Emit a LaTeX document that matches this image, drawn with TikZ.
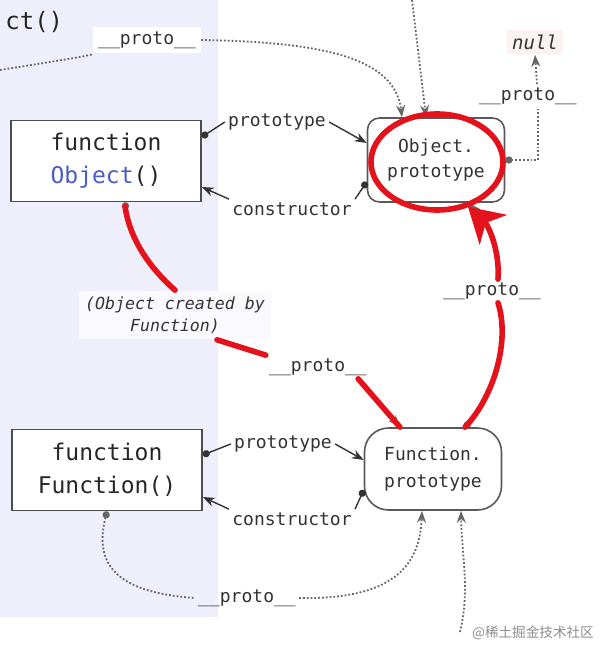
\documentclass[tikz,border=0pt]{standalone}
\usepackage{fontspec}
\setmonofont{DejaVu Sans Mono}
\newfontfamily\cjkfont{Noto Sans CJK SC}
\usetikzlibrary{arrows.meta}
\definecolor{panel}{HTML}{EFEFFB}
\definecolor{objblue}{HTML}{4A5CC9}
\definecolor{penred}{HTML}{E3121B}
\definecolor{nullbg}{HTML}{FCF2F2}
\begin{document}
\begin{tikzpicture}[x=0.5pt,y=-0.5pt,font=\ttfamily\fontsize{9}{11}\selectfont,text=black!80]
    \tikzstyle{ctor}=[draw=black!70,line width=0.8pt,fill=white,minimum width=95pt,minimum height=40.5pt,
      align=center,text=black!85,font=\ttfamily\fontsize{11.5}{16.5}\selectfont]
    \tikzstyle{proto obj}=[draw=black!65,line width=0.8pt,fill=white,minimum width=68.5pt,minimum height=42pt,
      align=center,font=\ttfamily\fontsize{9}{12.5}\selectfont]
    \tikzstyle{lbl}=[inner sep=1.5pt]
    \tikzstyle{link}=[draw=black!80,line width=0.7pt]
    \tikzstyle{dots}=[draw=black!60,line width=0.9pt,densely dotted]
    \tikzstyle{tip}=[-{Stealth[length=6pt,width=4.5pt]}]
    \tikzstyle{dot}=[{Circle[length=3.6pt]}-]
    \tikzstyle{pen}=[draw=penred,line width=2.8pt,line cap=round]
    \useasboundingbox (0,0) rectangle (609,658);
    \fill[panel] (0,0) rectangle (218,617);
    % nodes
    \node[anchor=west,inner sep=0pt,font=\ttfamily\fontsize{12}{14}\selectfont,text=black!85] (cut) at (5,22) {ct()};
    \node[ctor] (fobj) at (106,161) {function\\{\color{objblue}Object}()};
    \node[ctor] (ffun) at (107,470) {function\\Function()};
    \node[proto obj,rounded corners=6pt] (oproto) at (436,160) {Object.\\prototype};
    \node[proto obj,rounded corners=12pt,minimum height=41pt,font=\ttfamily\fontsize{9}{13.5}\selectfont] (fproto) at (433,469) {Function.\\prototype};
    \node[fill=nullbg,inner sep=2.5pt,font=\ttfamily\itshape\fontsize{9.5}{11}\selectfont] (nullv) at (535,42) {null};
    % labels
    \node[lbl,fill=white,inner sep=2.5pt] (topproto) at (147,40) {\_\_proto\_\_};
    \node[lbl] (nullproto) at (528,96) {\_\_proto\_\_};
    \node[lbl] (protoA) at (277,122) {prototype};
    \node[lbl] (ctorA) at (292,209) {constructor};
    \node[lbl] (protoB) at (283,444) {prototype};
    \node[lbl] (ctorB) at (292,519) {constructor};
    \node[lbl,fill=white!70!panel,inner sep=3pt,align=center,font=\ttfamily\itshape\fontsize{8.3}{11}\selectfont] (created) at (175,315) {(Object created by\\Function)};
    \node[lbl] (midproto) at (318,367) {\_\_proto\_\_};
    \node[lbl] (upproto) at (492,291) {\_\_proto\_\_};
    \node[lbl] (lowproto) at (247,598) {\_\_proto\_\_};
    \node[font=\cjkfont\fontsize{6.8}{8}\selectfont,text=black!45] (mark) at (533,633) {@稀土掘金技术社区};
    \coordinate (leftin) at (0,70);
    \coordinate (topin) at (412,0);
    \coordinate (botin) at (460,632);
    % prototype / constructor links
    \draw[link,dot] ([yshift=12pt]fobj.east) -- (protoA.west);
    \draw[link,tip] (protoA.east) -- ([yshift=8.5pt]oproto.west);
    \draw[link,dot] ([yshift=-11pt]oproto.west) -- (ctorA.north east);
    \draw[link,tip] (ctorA.north west) -- ([yshift=-13pt]fobj.east);
    \draw[link,dot] ([yshift=7.5pt]ffun.east) -- (protoB.west);
    \draw[link,tip] (protoB.east) -- ([yshift=4.5pt]fproto.west);
    \draw[link,dot] ([yshift=-10.5pt]fproto.west) -- (ctorB.north east);
    \draw[link,tip] (ctorB.north west) -- ([yshift=-13.5pt]ffun.east);
    % __proto__ chains
    \draw[dots] (leftin) .. controls (50,62) and (95,55) .. (topproto.south west);
    \draw[dots,tip] (topproto.east) .. controls (330,42) and (395,60) .. ([xshift=-17pt]oproto.north);
    \draw[dots,tip] (topin) -- ([xshift=-5pt]oproto.north);
    \draw[dots,dot] (oproto.east) -| ([xshift=5pt]nullproto.south);
    \draw[dots,tip] ([xshift=4.5pt]nullproto.north) -- (nullv.south);
    \draw[dots,dot] (ffun.south) .. controls (95,560) and (110,592) .. (lowproto.west);
    \draw[dots,tip] (lowproto.east) .. controls (400,600) and (420,560) .. ([xshift=-5.5pt]fproto.south);
    \draw[dots,tip] (botin) .. controls (470,590) and (462,560) .. ([xshift=14pt]fproto.south);
    \draw[dots,dot] ([xshift=9.5pt]fobj.south) .. controls (130,240) and (150,268) .. (created.north);
    \draw[dots] ([xshift=21pt]created.south) -- (midproto.north west);
    \draw[dots,tip] ([xshift=-6pt]midproto.south east) -- ([xshift=-16.5pt]fproto.north);
    \draw[dots,dot] ([xshift=16pt]fproto.north) .. controls (495,395) and (510,340) .. ([xshift=3pt]upproto.south);
    \draw[dots,tip] ([xshift=3pt]upproto.north) .. controls (500,250) and (488,225) .. ([xshift=16pt]oproto.south);
    % red marks
    \draw[pen] ([xshift=9.5pt,yshift=-2pt]fobj.south) .. controls (130,240) and (150,268) .. (created.north);
    \draw[pen] ([xshift=21pt]created.south) -- (midproto.north west);
    \draw[pen] ([xshift=-6pt]midproto.south east) -- ([xshift=-16.5pt]fproto.north);
    \draw[pen] ([xshift=16pt]fproto.north) .. controls (495,395) and (510,340) .. ([xshift=3pt]upproto.south);
    \draw[pen,-{Stealth[length=17pt,width=20pt,inset=5pt]}] ([xshift=3pt]upproto.north) .. controls (500,250) and (488,225) .. ([xshift=16pt,yshift=-2pt]oproto.south);
    \draw[pen] (437,162) ellipse [x radius=33pt,y radius=24pt];
\end{tikzpicture}
\end{document}
